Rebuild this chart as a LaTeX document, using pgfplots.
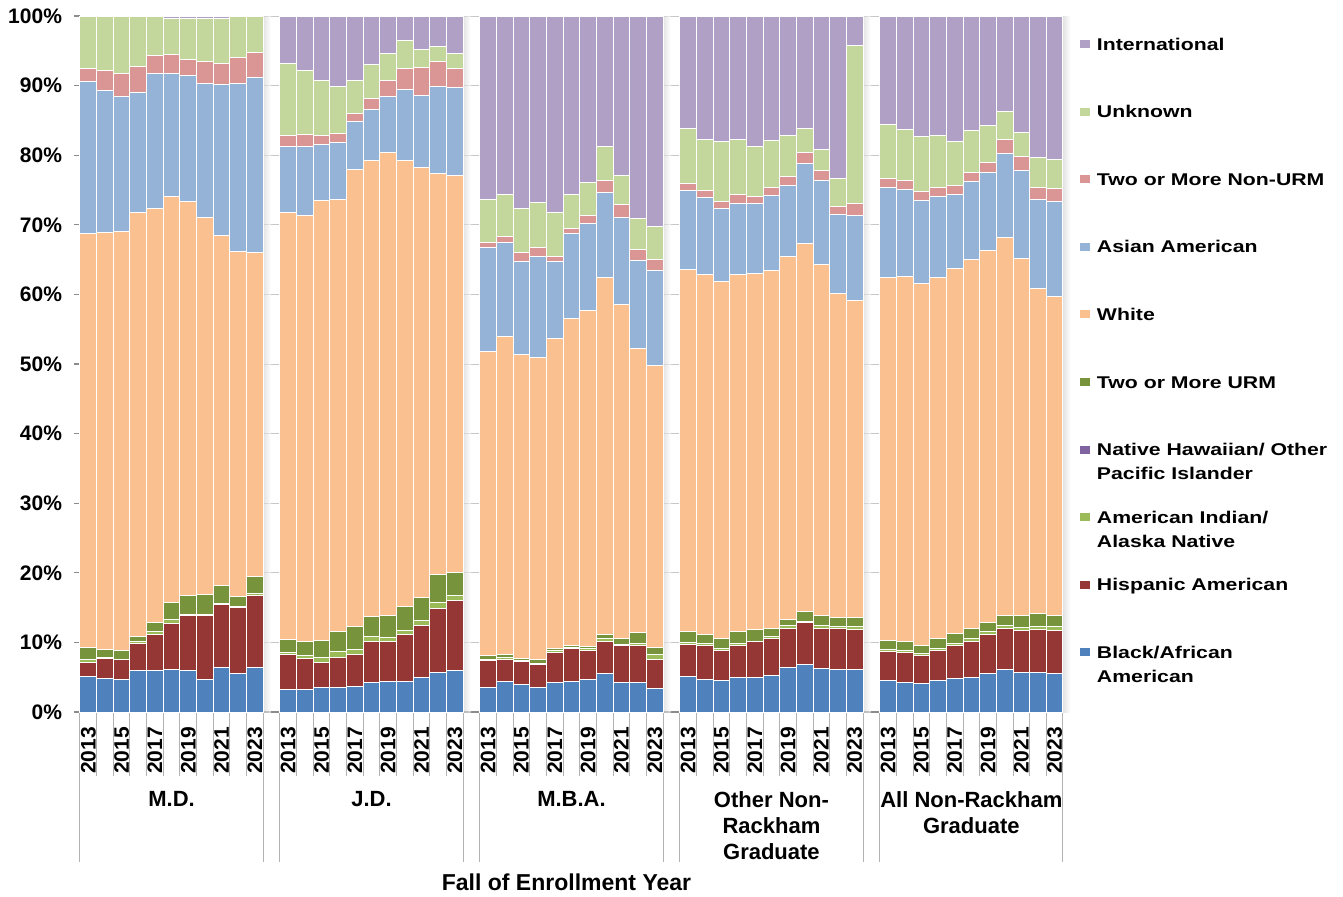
\documentclass[border=0pt]{standalone}
\usepackage{pgfplots}
\pgfplotsset{compat=1.18}
\usepackage{pgfplotstable}
\usepackage{fontspec}
\setmainfont{Liberation Sans}
\newfontfamily\legfont{Liberation Sans}[FakeStretch=1.25]

\definecolor{cBlack}{HTML}{4F81BD}
\definecolor{cHisp}{HTML}{953735}
\definecolor{cAmInd}{HTML}{9BBB59}
\definecolor{cNH}{HTML}{7F64A0}
\definecolor{cURM}{HTML}{77933C}
\definecolor{cWhite}{HTML}{FAC090}
\definecolor{cAsian}{HTML}{95B3D7}
\definecolor{cNURM}{HTML}{D99694}
\definecolor{cUnk}{HTML}{C3D69B}
\definecolor{cIntl}{HTML}{B1A0C6}

\newcommand\tickfont{\fontsize{10.5}{12}\selectfont\bfseries}
\newcommand\grpfont{\fontsize{11}{13}\selectfont\bfseries}
\newcommand\legfontsel{\fontsize{8.5}{12}\selectfont\legfont\bfseries}
\newcommand\LE[1]{\begin{tabular}[t]{@{}l@{}}#1\end{tabular}}

% x: position (group*12 + year index); B H A N U W As NU Un I (percent)
\pgfplotstableread{
x  B   H    A   N  U   W    As   NU  Un   I
0  5.1 2.0  0.4 0  1.8 59.4 21.9 1.8 7.5  0.1
1  4.8 2.9  0.1 0  1.2 59.9 20.4 2.9 7.7  0.1
2  4.7 2.8  0.1 0  1.3 60.2 19.4 3.2 8.3  0.0
3  5.9 4.0  0.2 0  0.8 60.8 17.3 3.8 7.2  0.0
4  6.0 5.2  0.3 0  1.3 59.6 19.3 2.6 5.7  0.0
5  6.1 6.6  0.6 0  2.4 58.3 17.8 2.6 5.3  0.3
6  5.9 7.9  0.2 0  2.8 56.5 18.2 2.2 5.9  0.4
7  4.6 9.2  0.2 0  2.9 54.2 19.2 3.2 6.2  0.3
8  6.4 9.1  0.1 0  2.6 50.3 21.7 3.0 6.5  0.3
9  5.6 9.4  0.2 0  1.4 49.5 24.2 3.7 6.0  0.0
10 6.4 10.4 0.2 0  2.4 46.6 25.1 3.6 5.3  0.0
12 3.2 5.1  0.3 0  1.8 61.4 9.4  1.6 10.4 6.8
13 3.3 4.4  0.4 0  2.0 61.3 9.9  1.7 9.2  7.8
14 3.5 3.6  0.7 0  2.5 63.2 8.1  1.3 7.8  9.3
15 3.5 4.4  0.8 0  2.9 62.1 8.1  1.3 6.7  10.2
16 3.6 4.7  0.7 0  3.3 65.6 6.9  1.2 4.7  9.3
17 4.3 5.9  0.6 0  2.9 65.6 7.3  1.5 4.9  7.0
18 4.4 5.8  0.5 0  3.1 66.6 8.0  2.3 3.9  5.4
19 4.4 6.7  0.6 0  3.4 64.2 10.1 3.0 4.1  3.5
20 5.0 7.4  0.7 0  3.4 61.7 10.4 4.0 2.6  4.8
21 5.7 9.2  0.8 0  4.0 57.6 12.6 3.5 2.2  4.4
22 5.9 10.1 0.7 0  3.4 57.0 12.6 2.7 2.2  5.4
24 3.5 3.9  0.2 0  0.5 43.7 14.9 0.8 6.2  26.3
25 4.4 3.2  0.2 0  0.5 45.7 13.4 0.9 6.0  25.7
26 4.0 3.2  0.2 0  0.3 43.7 13.3 1.3 6.4  27.6
27 3.5 3.3  0.1 0  0.7 43.4 14.4 1.3 6.5  26.8
28 4.3 4.3  0.2 0  0.3 44.5 11.1 0.8 6.3  28.2
29 4.4 4.7  0.1 0  0.4 46.9 12.2 0.7 4.9  25.7
30 4.7 4.2  0.2 0  0.3 48.3 12.5 1.1 4.8  23.9
31 5.6 4.5  0.4 0  0.7 51.2 12.2 1.7 5.0  18.7
32 4.2 5.3  0.2 0  0.9 48.0 12.5 1.8 4.2  22.9
33 4.2 5.3  0.4 0  1.5 40.8 12.6 1.6 4.5  29.1
34 3.4 4.2  0.6 0  1.0 40.6 13.7 1.5 4.7  30.3
36 5.1 4.6  0.3 0  1.6 52.0 11.3 1.1 7.9  16.1
37 4.6 4.9  0.3 0  1.4 51.7 11.0 1.1 7.3  17.7
38 4.5 4.4  0.2 0  1.4 51.4 10.5 1.0 8.6  18.0
39 5.0 4.6  0.3 0  1.7 51.2 10.3 1.2 8.0  17.7
40 5.0 5.1  0.1 0  1.6 51.2 10.0 1.1 7.2  18.7
41 5.2 5.3  0.3 0  1.2 51.5 10.7 1.2 6.7  17.9
42 6.4 5.6  0.4 0  0.9 52.1 10.2 1.3 6.0  17.1
43 6.8 6.0  0.2 0  1.4 52.9 11.5 1.6 3.4  16.2
44 6.3 5.7  0.4 0  1.4 50.5 12.1 1.4 3.0  19.2
45 6.1 5.9  0.3 0  1.3 46.5 11.4 1.2 4.0  23.3
46 6.1 5.7  0.5 0  1.3 45.5 12.2 1.7 22.8 4.2
48 4.5 4.2  0.3 0  1.3 52.2 12.8 1.3 7.8  15.6
49 4.3 4.3  0.2 0  1.3 52.5 12.5 1.3 7.3  16.3
50 4.1 4.0  0.3 0  1.2 52.0 11.9 1.3 7.9  17.3
51 4.5 4.3  0.3 0  1.5 51.9 11.5 1.4 7.5  17.1
52 4.8 4.8  0.3 0  1.4 52.4 10.6 1.3 6.4  18.0
53 5.0 5.2  0.4 0  1.4 53.0 11.2 1.3 6.0  16.5
54 5.6 5.6  0.3 0  1.3 53.5 11.2 1.4 5.4  15.7
55 6.1 5.9  0.4 0  1.5 54.3 12.0 2.1 4.0  13.7
56 5.7 6.0  0.4 0  1.7 51.3 12.7 2.0 3.5  16.7
57 5.7 6.2  0.4 0  1.8 46.7 12.9 1.7 4.2  20.4
58 5.6 6.1  0.6 0  1.6 45.8 13.6 1.9 4.2  20.6
}\data

\begin{document}
\begin{tikzpicture}
\begin{axis}[
  at={(0pt,0pt)}, anchor=south west,
  scale only axis, width=491.5pt, height=348pt,
  ybar stacked, bar width=1,
  xmin=-0.5, xmax=58.5, ymin=0, ymax=100,
  axis x line*=bottom, axis y line*=left,
  axis line style={draw=black!45, line width=0.6pt},
  ytick={0,10,...,100},
  yticklabels={0\%,10\%,20\%,30\%,40\%,50\%,60\%,70\%,80\%,90\%,100\%},
  ymajorgrids, grid style={black!22, line width=0.5pt},
  xtick={0,2,...,10,12,14,...,22,24,26,...,34,36,38,...,46,48,50,...,58},
  xticklabels={2013,2015,2017,2019,2021,2023,2013,2015,2017,2019,2021,2023,2013,2015,2017,2019,2021,2023,2013,2015,2017,2019,2021,2023,2013,2015,2017,2019,2021,2023},
  minor xtick={-0.5,0.5,...,10.5,11.5,12.5,...,22.5,23.5,24.5,...,34.5,35.5,36.5,...,46.5,47.5,48.5,...,58.5},
  tick align=outside,
  major tick length=3pt, minor tick length=32pt,
  every major x tick/.append style={draw=none},
  every minor tick/.append style={draw=black!30, line width=0.5pt},
  every major y tick/.append style={draw=black!45, line width=0.6pt},
  xticklabel style={rotate=90, anchor=east, font=\tickfont},
  yticklabel style={font=\tickfont},
  xticklabel shift=1pt, yticklabel shift=2.5pt,
  clip=false,
  reverse legend,
  legend cell align=left,
  legend style={at={(1,1)}, anchor=north west, xshift=8.5pt, yshift=-11pt,
    draw=none, fill=none, inner sep=0pt, outer sep=0pt,
    row sep=25.8pt, column sep=3.5pt, font=\legfontsel,
    cells={anchor=west},
    nodes={inner sep=0pt, outer sep=0pt, text height=6pt, text depth=2pt}},
  bs/.style={fill=#1, draw=white, line width=0.5pt,
    legend image code/.code={\fill[##1, draw=none] (0pt,-1pt) rectangle (5pt,3pt);}},
]
\addplot[bs=cBlack] table[x=x,y=B]{\data};
\addlegendentry{\LE{Black/African\\American}}
\addplot[bs=cHisp] table[x=x,y=H]{\data};
\addlegendentry{\LE{Hispanic American}}
\addplot[bs=cAmInd] table[x=x,y=A]{\data};
\addlegendentry{\LE{American Indian/\\Alaska Native}}
\addplot[bs=cNH] table[x=x,y=N]{\data};
\addlegendentry{\LE{Native Hawaiian/ Other\\Pacific Islander}}
\addplot[bs=cURM] table[x=x,y=U]{\data};
\addlegendentry{\LE{Two or More URM}}
\addplot[bs=cWhite] table[x=x,y=W]{\data};
\addlegendentry{\LE{White}}
\addplot[bs=cAsian] table[x=x,y=As]{\data};
\addlegendentry{\LE{Asian American}}
\addplot[bs=cNURM] table[x=x,y=NU]{\data};
\addlegendentry{\LE{Two or More Non-URM}}
\addplot[bs=cUnk] table[x=x,y=Un]{\data};
\addlegendentry{\LE{Unknown}}
\addplot[bs=cIntl] table[x=x,y=I]{\data};
\addlegendentry{\LE{International}}

% soft shadows to the right of each group of bars
\shade[left color=black!18, right color=white, opacity=0.6] (axis cs:10.5,0) rectangle (axis cs:10.95,100);
\shade[left color=black!18, right color=white, opacity=0.6] (axis cs:22.5,0) rectangle (axis cs:22.95,100);
\shade[left color=black!18, right color=white, opacity=0.6] (axis cs:34.5,0) rectangle (axis cs:34.95,100);
\shade[left color=black!18, right color=white, opacity=0.6] (axis cs:46.5,0) rectangle (axis cs:46.95,100);
\shade[left color=black!18, right color=white, opacity=0.6] (axis cs:58.5,0) rectangle (axis cs:58.95,100);

\draw[black!30, line width=0.5pt] (axis cs:-0.5,0) -- ++(0pt,-75pt);
\draw[black!30, line width=0.5pt] (axis cs:10.5,0) -- ++(0pt,-75pt);
\draw[black!30, line width=0.5pt] (axis cs:11.5,0) -- ++(0pt,-75pt);
\draw[black!30, line width=0.5pt] (axis cs:22.5,0) -- ++(0pt,-75pt);
\draw[black!30, line width=0.5pt] (axis cs:23.5,0) -- ++(0pt,-75pt);
\draw[black!30, line width=0.5pt] (axis cs:34.5,0) -- ++(0pt,-75pt);
\draw[black!30, line width=0.5pt] (axis cs:35.5,0) -- ++(0pt,-75pt);
\draw[black!30, line width=0.5pt] (axis cs:46.5,0) -- ++(0pt,-75pt);
\draw[black!30, line width=0.5pt] (axis cs:47.5,0) -- ++(0pt,-75pt);
\draw[black!30, line width=0.5pt] (axis cs:58.5,0) -- ++(0pt,-75pt);

\node[anchor=north, align=center, inner sep=0pt, yshift=-39.5pt, font=\grpfont] at (axis cs:5,0) {M.D.};
\node[anchor=north, align=center, inner sep=0pt, yshift=-39.5pt, font=\grpfont] at (axis cs:17,0) {J.D.};
\node[anchor=north, align=center, inner sep=0pt, yshift=-39.5pt, font=\grpfont] at (axis cs:29,0) {M.B.A.};
\node[anchor=north, align=center, inner sep=0pt, yshift=-39.5pt, font=\grpfont] at (axis cs:41,0) {Other Non-\\Rackham\\Graduate};
\node[anchor=north, align=center, inner sep=0pt, yshift=-39.5pt, font=\grpfont] at (axis cs:53,0) {All Non-Rackham\\Graduate};
\node[anchor=north, inner sep=0pt, yshift=-80.5pt, font=\fontsize{11.5}{13}\selectfont\bfseries] at (axis cs:28.7,0) {Fall of Enrollment Year};
\end{axis}
\pgfresetboundingbox
\path[use as bounding box] (-40pt,-92pt) rectangle (631.5pt,356pt);
\end{tikzpicture}
\end{document}
